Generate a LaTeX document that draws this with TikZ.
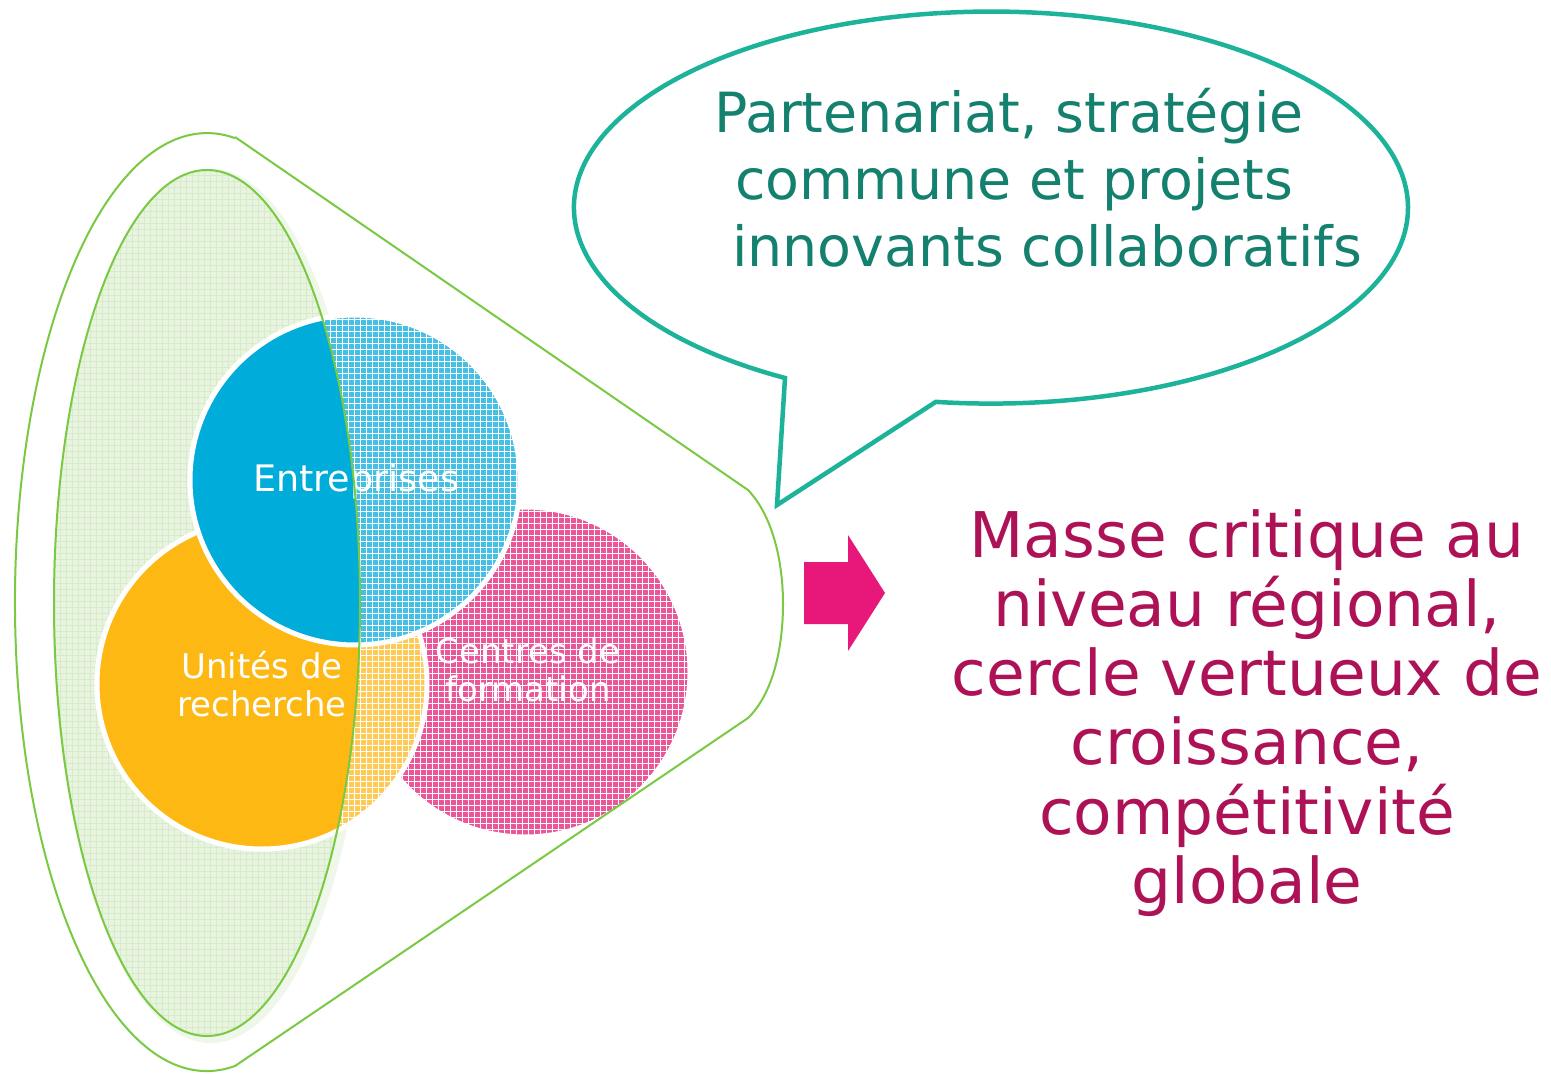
\documentclass[tikz,border=0pt]{standalone}
\usepackage{fontspec}
\setmainfont{DejaVu Sans}
\usetikzlibrary{patterns.meta}
\definecolor{lgreen}{HTML}{7AC943}
\definecolor{ellfill}{HTML}{E8F4E0}
\definecolor{ellgrid}{HTML}{D6ECC8}
\definecolor{glowc}{HTML}{EEF7E9}
\definecolor{blueS}{HTML}{00ACD9}
\definecolor{blueL}{HTML}{45C0E4}
\definecolor{orangeS}{HTML}{FDB813}
\definecolor{orangeL}{HTML}{FDCB55}
\definecolor{pinkL}{HTML}{EA5698}
\definecolor{tealline}{HTML}{1DB39B}
\definecolor{tealtext}{HTML}{14806E}
\definecolor{magtext}{HTML}{AE1256}
\definecolor{arrowpink}{HTML}{E8177A}
\begin{document}
\begin{tikzpicture}[x=1pt,y=-1pt,
  disc/.style={circle, minimum size=330pt, inner sep=0pt, draw=white, line width=5pt},
  gridded/.style={postaction={pattern={Hatch[angle=0,distance=6pt,line width=0.9pt]}, pattern color=#1}},
  disclabel/.style={text=white, align=center, inner sep=0pt, font=\fontsize{34}{38}\selectfont},
  greenline/.style={draw=lgreen, line width=2pt},
  bubbletext/.style={text=tealtext, anchor=base west, inner sep=0pt, font=\fontsize{55.4}{66}\selectfont},
  bigtext/.style={text=magtext, align=center, inner sep=0pt, font=\fontsize{63}{69.2}\selectfont}]
\useasboundingbox (0,0) rectangle (1551,1075);
\fill[white] (0,0) rectangle (1551,1075);

% soft glow and green ellipse fill
\fill[glowc] (211,606) ellipse[x radius=158, y radius=437];
\fill[ellfill, gridded=ellgrid] (207,603) ellipse[x radius=153, y radius=433];

% circles (light, gridded parts)
\node[disc, fill=pinkL, gridded=white] (cent) at (525,672) {};
\node[disc, fill=orangeL, gridded=white] (unit) at (262,684) {};
\node[disc, fill=blueL, gridded=white] (ent) at (355,480) {};

% solid parts inside the green ellipse
\begin{scope}
  \clip (207,603) ellipse[x radius=153, y radius=433];
  \filldraw[fill=orangeS, draw=white, line width=5pt] (unit.center) circle[radius=165];
  \filldraw[fill=blueS, draw=white, line width=5pt] (ent.center) circle[radius=165];
\end{scope}

% labels
\node[disclabel, font=\fontsize{36.5}{40}\selectfont, anchor=base] (entl) at (356,491) {Entreprises};
\node[disclabel] (unitl) at (262,684) {Unités de\\recherche};
\node[disclabel] (centl) at (528,670) {Centres de\\formation};

% green outlines
\draw[greenline] (207,603) ellipse[x radius=153, y radius=433];
\draw[greenline, line join=round]
  (235,137) -- (748,490)
  .. controls (772,515) and (783,560) .. (783,604)
  .. controls (783,650) and (772,695) .. (748,718)
  -- (235,1066)
  arc[start angle=81.6, end angle=278.4, x radius=192, y radius=469];

% speech bubble
\draw[tealline, line width=4.5pt, line join=miter]
  (785,378) arc[start angle=119.6, end angle=457.6, x radius=417, y radius=196]
  -- (777,505) -- cycle;
\node[bubbletext] (bt1) at (714,133) {Partenariat, stratégie};
\node[bubbletext] (bt2) at (735,200) {commune et projets};
\node[bubbletext] (bt3) at (732,267) {innovants collaboratifs};

% arrow
\fill[arrowpink] (804,562) -- (848,562) -- (848,535) -- (885,593) -- (848,651) -- (848,624) -- (804,624) -- cycle;

% result text
\node[bigtext] (mc) at (1247,713) {Masse critique au\\niveau régional,\\cercle vertueux de\\croissance,\\compétitivité\\globale};
\end{tikzpicture}
\end{document}
